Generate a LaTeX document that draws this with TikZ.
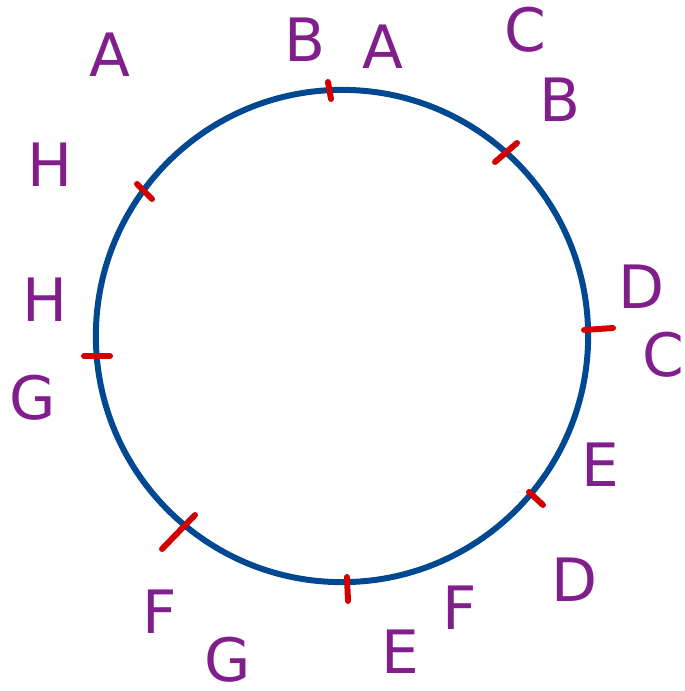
\documentclass[tikz,border=0pt]{standalone}
\usepackage{fontspec}
\setsansfont{DejaVu Sans}
\usetikzlibrary{positioning}
\definecolor{ring}{RGB}{0,72,145}
\definecolor{mark}{RGB}{210,0,0}
\definecolor{letter}{RGB}{128,30,140}
\begin{document}
\begin{tikzpicture}[x=0.01cm,y=-0.01cm,
every node/.style={text=letter,inner sep=0pt,font=\fontsize{17}{17}\selectfont\sffamily},
tick/.style={draw=mark,line width=1.7pt,line cap=round}]
\useasboundingbox (0,0) rectangle (685,691);
\coordinate (O) at (342,336);
\draw[ring,line width=1.7pt] (O) circle[radius=2.46cm];
% red ticks
\draw[tick] (328,82)--(331,99);
\draw[tick] (495,162)--(517,143);
\draw[tick] (584,330)--(613,328);
\draw[tick] (529,492)--(543,505);
\draw[tick] (347,577)--(348,601);
\draw[tick] (162,549)--(195,515);
\draw[tick] (84,356)--(110,356);
\draw[tick] (137,184)--(152,199);
% letters
\node (A1) at (110,55) {A};
\node (B1) at (305,40) {B};
\node (A2) at (383,47) {A};
\node (C1) at (525,30) {C};
\node (B2) at (560,100) {B};
\node (D1) at (642,287) {D};
\node (C2) at (663,355) {C};
\node (E1) at (600,465) {E};
\node (D2) at (575,580) {D};
\node (F1) at (460,608) {F};
\node (E2) at (400,652) {E};
\node (F2) at (160,612) {F};
\node (G1) at (228,660) {G};
\node (H1) at (50,165) {H};
\node (H2) at (45,300) {H};
\node (G2) at (33,398) {G};
\end{tikzpicture}
\end{document}
